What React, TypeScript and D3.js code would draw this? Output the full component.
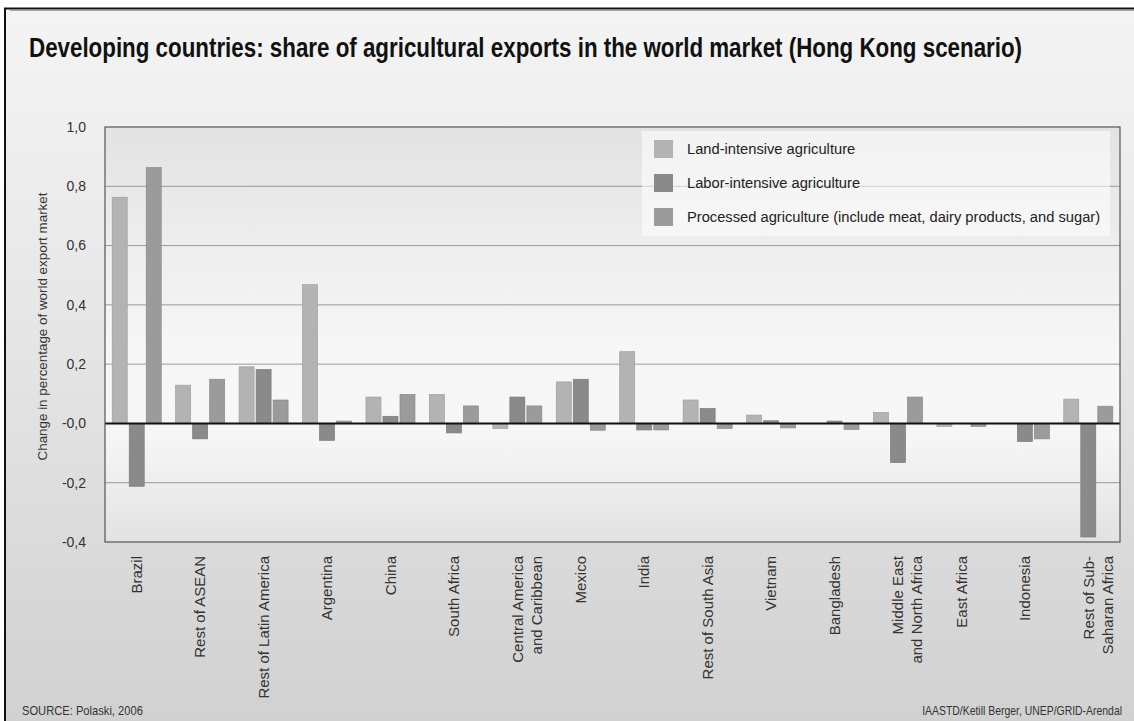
import React from 'react';
import * as d3 from 'd3';

const categories = [
  'Brazil',
  'Rest of ASEAN',
  'Rest of Latin America',
  'Argentina',
  'China',
  'South Africa',
  'Central America\nand Caribbean',
  'Mexico',
  'India',
  'Rest of South Asia',
  'Vietnam',
  'Bangladesh',
  'Middle East\nand North Africa',
  'East Africa',
  'Indonesia',
  'Rest of Sub-\nSaharan Africa',
];

const seriesNames = [
  'Land-intensive agriculture',
  'Labor-intensive agriculture',
  'Processed agriculture (include meat, dairy products, and sugar)',
];

const landIntensive = [0.763, 0.129, 0.191, 0.468, 0.089, 0.098, -0.017, 0.14, 0.242, 0.079, 0.028, 0, 0.037, -0.01, 0, 0.082];
const laborIntensive = [-0.212, -0.052, 0.182, -0.057, 0.024, -0.032, 0.089, 0.149, -0.022, 0.05, 0.009, 0.008, -0.132, 0, -0.061, -0.383];
const processedAgri = [0.863, 0.149, 0.079, 0.008, 0.098, 0.059, 0.059, -0.023, -0.022, -0.017, -0.015, -0.02, 0.089, -0.01, -0.052, 0.058];

const seriesColors = ['#b3b3b3', '#8a8a8a', '#9b9b9b'];

const tickValues = [-0.4, -0.2, 0, 0.2, 0.4, 0.6, 0.8, 1.0];
const tickLabels = ['-0,4', '-0,2', '-0,0', '0,2', '0,4', '0,6', '0,8', '1,0'];

const titleText = 'Developing countries: share of agricultural exports in the world market (Hong Kong scenario)';
const yAxisTitle = 'Change in percentage of world export market';
const sourceText = 'SOURCE: Polaski, 2006';
const creditText = 'IAASTD/Ketill Berger, UNEP/GRID-Arendal';

const W = 1134;
const H = 721;
const plot = { left: 105, right: 1120, top: 127, bottom: 542 };

const SANS = '"Liberation Sans", Arial, Helvetica, sans-serif';

function measure(text: string, font: string, fallback: number): number {
  try {
    const c = document.createElement('canvas');
    const ctx = c.getContext('2d');
    if (!ctx) return fallback;
    ctx.font = font;
    const w = ctx.measureText(text).width;
    return w > 0 ? w : fallback;
  } catch (e) {
    return fallback;
  }
}

export default function App() {
  const seriesValues = [landIntensive, laborIntensive, processedAgri];
  const x0 = d3.scaleBand<string>().domain(categories).range([plot.left, plot.right]).padding(0);
  const bw = x0.bandwidth();
  const groupW = 49;
  const x1 = d3
    .scaleBand<string>()
    .domain(seriesNames)
    .range([(bw - groupW) / 2, (bw + groupW) / 2])
    .paddingInner(0.12);
  const y = d3.scaleLinear().domain([-0.4, 1.0]).range([plot.bottom, plot.top]);

  const gridVals = tickValues.filter((v) => v !== 0 && v !== -0.4 && v !== 1.0);

  const titleW = measure(titleText, 'bold 27px "Liberation Sans"', 1300);
  const titleScale = 994 / titleW;
  const srcW = measure(sourceText, '12px "Liberation Sans"', 130);
  const srcScale = 121 / srcW;
  const credW = measure(creditText, '12px "Liberation Sans"', 230);
  const credScale = 200 / credW;

  return (
    <svg width={W} height={H} style={{ position: 'absolute', left: 0, top: 0, background: '#fff' }}>
      <defs>
        <linearGradient id="bgGrad" x1="0" y1="0" x2="0" y2="1">
          <stop offset="0" stopColor="#f4f4f4" />
          <stop offset="0.45" stopColor="#e6e6e6" />
          <stop offset="1" stopColor="#d1d1d1" />
        </linearGradient>
        <linearGradient id="plotGrad" x1="0" y1="0" x2="0" y2="1">
          <stop offset="0" stopColor="#e3e3e3" />
          <stop offset="0.55" stopColor="#f7f7f7" />
          <stop offset="0.75" stopColor="#f6f6f6" />
          <stop offset="1" stopColor="#e2e2e2" />
        </linearGradient>
      </defs>

      <rect x={5} y={8} width={W - 5} height={H - 8} fill="url(#bgGrad)" />
      <line x1={4} x2={W} y1={8.5} y2={8.5} stroke="#111" strokeWidth={2} />
      <line x1={10} x2={W} y1={10.5} y2={10.5} stroke="#aaa" strokeWidth={1} />
      <line x1={5} x2={5} y1={8} y2={H} stroke="#111" strokeWidth={2} />

      <g transform={`translate(29, 57) scale(${titleScale}, 1)`}>
        <text x={0} y={0} fontFamily={SANS} fontWeight="bold" fontSize={27} fill="#111">
          {titleText}
        </text>
      </g>

      {/* plot background */}
      <rect x={plot.left} y={plot.top} width={plot.right - plot.left} height={plot.bottom - plot.top} fill="url(#plotGrad)" />

      {/* gridlines */}
      {gridVals.map((v) => (
        <line key={v} x1={plot.left} x2={plot.right} y1={y(v)} y2={y(v)} stroke="#9a9a9a" strokeWidth={1} />
      ))}

      {/* legend box */}
      <rect x={642} y={131} width={468} height={105} fill="#ffffff" fillOpacity={0.55} />
      {seriesNames.map((s, i) => (
        <g key={s} transform={`translate(654, ${140 + i * 34})`}>
          <rect width={19} height={18} fill={seriesColors[i]} />
          <text x={33} y={14} fontFamily={SANS} fontSize={14.7} fill="#222">
            {s}
          </text>
        </g>
      ))}

      {/* bars */}
      {categories.map((c, ci) => (
        <g key={c} transform={`translate(${x0(c)}, 0)`}>
          {seriesNames.map((s, si) => {
            const v = seriesValues[si][ci];
            if (v === 0) return null;
            const y0 = y(0);
            const yv = y(v);
            return (
              <rect
                key={s}
                x={x1(s)}
                y={Math.min(y0, yv)}
                width={x1.bandwidth()}
                height={Math.abs(yv - y0)}
                fill={seriesColors[si]}
                stroke={d3.color(seriesColors[si])!.darker(0.35).toString()}
                strokeWidth={0.7}
              />
            );
          })}
        </g>
      ))}

      {/* zero line */}
      <line x1={plot.left} x2={plot.right} y1={y(0)} y2={y(0)} stroke="#111" strokeWidth={2} />

      {/* frame */}
      <rect
        x={plot.left}
        y={plot.top}
        width={plot.right - plot.left}
        height={plot.bottom - plot.top}
        fill="none"
        stroke="#555"
        strokeWidth={1.2}
      />

      {/* y tick labels */}
      {tickValues.map((v, i) => (
        <text key={v} x={86} y={y(v)} dy="0.35em" textAnchor="end" fontFamily={SANS} fontSize={14} fill="#333">
          {tickLabels[i]}
        </text>
      ))}

      {/* y axis title */}
      <text
        transform={`translate(42, ${(plot.top + plot.bottom) / 2 - 8}) rotate(-90)`}
        textAnchor="middle"
        dy="0.35em"
        fontFamily={SANS}
        fontSize={13.4}
        fill="#333"
      >
        {yAxisTitle}
      </text>

      {/* x labels */}
      {categories.map((c) => {
        const cx = (x0(c) as number) + bw / 2;
        const lines = c.split('\n');
        return (
          <g key={c}>
            {lines.map((ln, li) => (
              <text
                key={li}
                transform={`translate(${cx + li * 19}, 556) rotate(-90)`}
                textAnchor="end"
                dy="0.35em"
                fontFamily={SANS}
                fontSize={15}
                fill="#333"
              >
                {ln}
              </text>
            ))}
          </g>
        );
      })}

      {/* footer */}
      <g transform={`translate(22, 715) scale(${srcScale}, 1)`}>
        <text x={0} y={0} fontFamily={SANS} fontSize={12} fill="#333">
          {sourceText}
        </text>
      </g>
      <g transform={`translate(1122, 715) scale(${credScale}, 1)`}>
        <text x={0} y={0} textAnchor="end" fontFamily={SANS} fontSize={12} fill="#333">
          {creditText}
        </text>
      </g>
    </svg>
  );
}
